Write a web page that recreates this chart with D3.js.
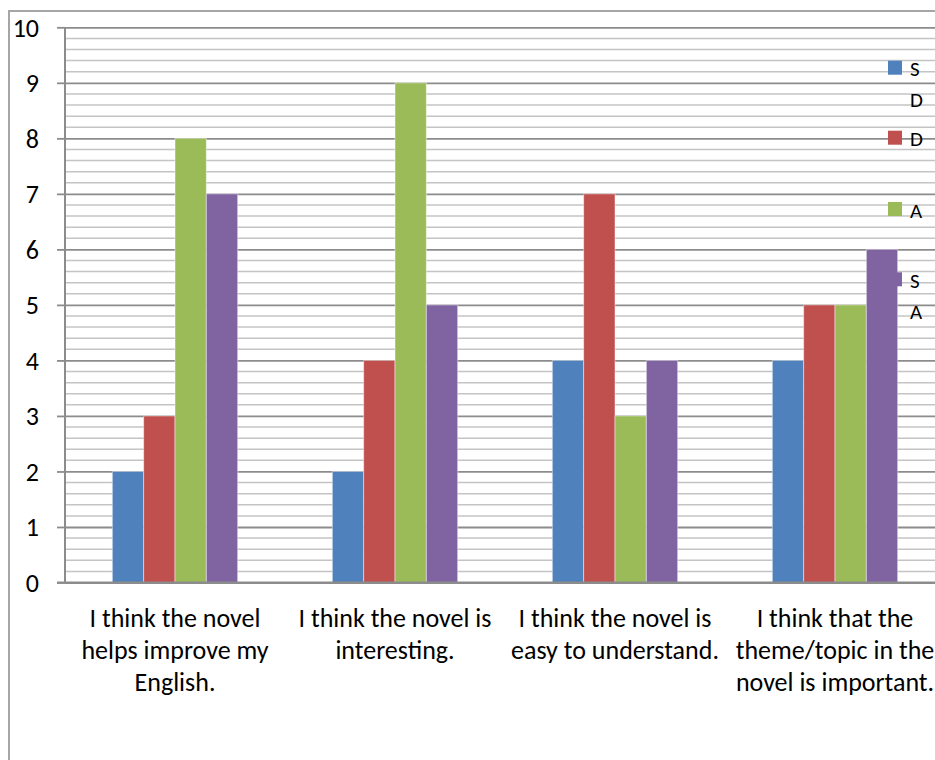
<!DOCTYPE html>
<html>
<head>
<meta charset="utf-8">
<script src="https://cdn.jsdelivr.net/npm/d3@7/dist/d3.min.js"></script>
<style>
  html, body { margin: 0; padding: 0; background: #fff; }
  svg { display: block; }
  text { font-family: Carlito, Lato, "Open Sans", sans-serif; fill: #000; }
</style>
</head>
<body>
<svg id="chart" width="935" height="760"></svg>
<script>
// ---- data ----
const categories = [
  "I think the novel helps improve my English.",
  "I think the novel is interesting.",
  "I think the novel is easy to understand.",
  "I think that the theme/topic in the novel is important."
];
const categoryLines = [
  ["I think the novel", "helps improve my", "English."],
  ["I think the novel is", "interesting."],
  ["I think the novel is", "easy to understand."],
  ["I think that the", "theme/topic in the", "novel is important."]
];
const seriesNames = ["SD", "D", "A", "SA"];
const legendLines = [["S", "D"], ["D"], ["A"], ["S", "A"]];
const valuesSD = [2, 2, 4, 4];
const valuesD  = [3, 4, 7, 5];
const valuesA  = [8, 9, 3, 5];
const valuesSA = [7, 5, 4, 6];
const yTicks = [0, 1, 2, 3, 4, 5, 6, 7, 8, 9, 10];

const seriesValues = [valuesSD, valuesD, valuesA, valuesSA];
const colors = ["#4F81BD", "#C0504D", "#9BBB59", "#8064A2"];

// ---- layout ----
const svg = d3.select("#chart");
const plot = { left: 65, right: 945, top: 27.3, bottom: 582.5 };
const fontSize = 26;

const x0 = d3.scaleBand().domain(categories).range([plot.left, plot.right]).padding(0);
const x1 = d3.scaleBand().domain(seriesNames).range([0, x0.bandwidth()])
  .paddingInner(0).paddingOuter(1.51);
const y = d3.scaleLinear().domain([0, 10]).range([plot.bottom, plot.top]);

// outer frame
svg.append("line").attr("x1", 9).attr("x2", 9).attr("y1", 10).attr("y2", 760)
  .attr("stroke", "#a6a6a6").attr("stroke-width", 2);
svg.append("line").attr("x1", 8).attr("x2", 935).attr("y1", 11).attr("y2", 11)
  .attr("stroke", "#a6a6a6").attr("stroke-width", 2);

// minor gridlines
const minorTicks = d3.range(0, 10.001, 0.2).filter(v => Math.abs(v - Math.round(v)) > 1e-6);
svg.append("g").selectAll("line").data(minorTicks).join("line")
  .attr("x1", plot.left).attr("x2", 935)
  .attr("y1", d => y(d)).attr("y2", d => y(d))
  .attr("stroke", "#c4c4c4").attr("stroke-width", 1.5);

// major gridlines via axis
const yAxis = d3.axisLeft(y).tickValues(yTicks).tickSize(-(935 - plot.left)).tickSizeOuter(0)
  .tickFormat(d3.format("d")).tickPadding(0);
const gy = svg.append("g").attr("transform", `translate(${plot.left},0)`).call(yAxis);
gy.select(".domain").remove();
gy.selectAll(".tick line").attr("stroke", "#8c8c8c").attr("stroke-width", 1.8);
gy.selectAll(".tick").append("line")
  .attr("x1", -8).attr("x2", 0).attr("stroke", "#8c8c8c").attr("stroke-width", 1.8);
gy.selectAll(".tick text")
  .attr("x", -26).attr("dy", "0.34em")
  .style("font-size", fontSize + "px").style("font-family", "Carlito, Lato, 'Open Sans', sans-serif")
  .attr("fill", "#000");

// left axis line
svg.append("line").attr("x1", plot.left).attr("x2", plot.left)
  .attr("y1", plot.top).attr("y2", plot.bottom)
  .attr("stroke", "#8c8c8c").attr("stroke-width", 2);

// bars
const groups = svg.append("g").selectAll("g").data(categories).join("g")
  .attr("transform", d => `translate(${x0(d)},0)`);
groups.selectAll("rect")
  .data((c, ci) => seriesNames.map((s, si) => ({ s, si, v: seriesValues[si][ci] })))
  .join("rect")
  .attr("x", d => x1(d.s))
  .attr("width", x1.bandwidth())
  .attr("y", d => y(d.v))
  .attr("height", d => y(0) - y(d.v))
  .attr("fill", d => colors[d.si])
  .attr("stroke", "rgba(255,255,255,0.45)").attr("stroke-width", 1);

// x axis line
svg.append("line").attr("x1", plot.left - 8).attr("x2", 935)
  .attr("y1", plot.bottom).attr("y2", plot.bottom)
  .attr("stroke", "#8c8c8c").attr("stroke-width", 2);

// category labels
const xl = svg.append("g");
categories.forEach((c, i) => {
  const t = xl.append("text")
    .attr("x", x0(c) + x0.bandwidth() / 2)
    .attr("y", 627)
    .attr("text-anchor", "middle")
    .style("font-size", fontSize + "px");
  categoryLines[i].forEach((ln, j) => {
    t.append("tspan").attr("x", x0(c) + x0.bandwidth() / 2)
      .attr("dy", j === 0 ? 0 : 32).text(ln);
  });
});

// legend
const legendY = [67.7, 137.7, 209, 279.3];
const lg = svg.append("g");
seriesNames.forEach((s, i) => {
  lg.append("rect").attr("x", 888).attr("y", legendY[i] - 7)
    .attr("width", 14).attr("height", 14).attr("fill", colors[i]);
  const t = lg.append("text").attr("x", 910).attr("y", legendY[i] + 8.5)
    .style("font-size", "21px");
  legendLines[i].forEach((ln, j) => {
    t.append("tspan").attr("x", 910).attr("dy", j === 0 ? 0 : 31).text(ln);
  });
});
</script>
</body>
</html>
